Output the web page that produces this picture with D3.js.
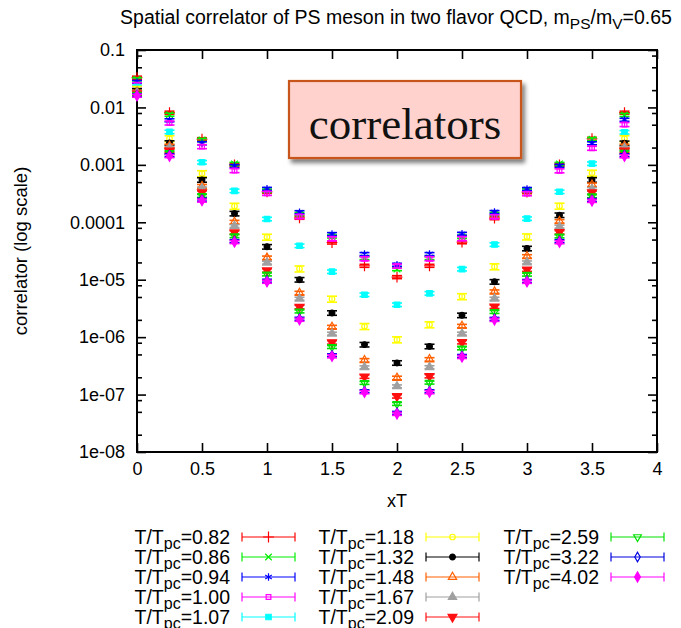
<!DOCTYPE html>
<html lang="en">
<head>
<meta charset="UTF-8">
<title>Spatial correlator of PS meson</title>
<script src="https://cdn.jsdelivr.net/npm/d3@7"></script>
<style>
  body { margin: 0; background: #fff; }
  svg { display: block; font-family: "Liberation Sans", Arial, Helvetica, sans-serif; }
</style>
</head>
<body>
<script>
// distances in units of 1/T
const xT = [0, 0.25, 0.5, 0.75, 1, 1.25, 1.5, 1.75, 2, 2.25, 2.5, 2.75, 3, 3.25, 3.5, 3.75];

// temperatures T/Tpc, one series each
const temps = ["0.82", "0.86", "0.94", "1.00", "1.07", "1.18", "1.32", "1.48", "1.67", "2.09", "2.59", "3.22", "4.02"];

const c082 = [3.30e-2, 8.12e-3, 2.80e-3, 1.00e-3, 3.39e-4, 1.20e-4, 4.45e-5, 1.75e-5, 1.11e-5, 1.75e-5, 4.50e-5, 1.18e-4, 3.35e-4, 1.00e-3, 2.85e-3, 8.12e-3];
const c086 = [3.09e-2, 7.49e-3, 2.72e-3, 1.04e-3, 3.57e-4, 1.39e-4, 5.66e-5, 2.38e-5, 1.53e-5, 2.38e-5, 5.60e-5, 1.40e-4, 3.60e-4, 1.04e-3, 2.80e-3, 7.40e-3];
const c094 = [2.78e-2, 5.99e-3, 2.38e-3, 9.49e-4, 3.82e-4, 1.50e-4, 6.23e-5, 2.80e-5, 1.82e-5, 2.80e-5, 6.30e-5, 1.51e-4, 3.80e-4, 9.60e-4, 2.38e-3, 6.10e-3];
const c100 = [2.49e-2, 5.37e-3, 2.08e-3, 7.96e-4, 3.19e-4, 1.26e-4, 5.16e-5, 2.32e-5, 1.73e-5, 2.32e-5, 5.20e-5, 1.25e-4, 3.15e-4, 7.90e-4, 1.95e-3, 5.05e-3];
const c107 = [2.27e-2, 3.75e-3, 1.11e-3, 3.53e-4, 1.14e-4, 3.90e-5, 1.38e-5, 5.48e-6, 3.67e-6, 5.80e-6, 1.53e-5, 4.10e-5, 1.16e-4, 3.40e-4, 1.05e-3, 3.70e-3];
const c118 = [2.07e-2, 2.87e-3, 7.06e-4, 1.91e-4, 5.53e-5, 1.55e-5, 4.61e-6, 1.54e-6, 9.04e-7, 1.65e-6, 5.10e-6, 1.69e-5, 5.60e-5, 1.92e-4, 7.20e-4, 2.87e-3];
const c132 = [1.94e-2, 2.41e-3, 5.48e-4, 1.42e-4, 3.75e-5, 1.00e-5, 2.64e-6, 7.41e-7, 3.56e-7, 6.90e-7, 2.40e-6, 9.20e-6, 3.50e-5, 1.33e-4, 5.48e-4, 2.38e-3];
const c148 = [1.86e-2, 2.14e-3, 4.26e-4, 1.01e-4, 2.41e-5, 5.87e-6, 1.50e-6, 3.95e-7, 1.95e-7, 4.10e-7, 1.56e-6, 6.20e-6, 2.55e-5, 1.04e-4, 4.50e-4, 2.14e-3];
const c167 = [1.79e-2, 1.98e-3, 3.87e-4, 8.59e-5, 1.98e-5, 4.67e-6, 1.15e-6, 2.98e-7, 1.39e-7, 3.00e-7, 1.15e-6, 4.67e-6, 2.00e-5, 8.40e-5, 3.80e-4, 1.97e-3];
const c209 = [1.74e-2, 1.77e-3, 3.30e-4, 6.65e-5, 1.45e-5, 3.35e-6, 8.12e-7, 2.06e-7, 9.34e-8, 2.10e-7, 8.20e-7, 3.40e-6, 1.50e-5, 6.70e-5, 3.30e-4, 1.77e-3];
const c259 = [1.67e-2, 1.62e-3, 2.89e-4, 5.75e-5, 1.24e-5, 2.81e-6, 6.75e-7, 1.60e-7, 6.89e-8, 1.62e-7, 6.40e-7, 2.75e-6, 1.23e-5, 5.70e-5, 2.85e-4, 1.64e-3];
const c322 = [1.63e-2, 1.47e-3, 2.48e-4, 4.70e-5, 9.60e-6, 2.09e-6, 4.82e-7, 1.14e-7, 4.80e-8, 1.14e-7, 4.70e-7, 2.08e-6, 9.50e-6, 4.70e-5, 2.45e-4, 1.47e-3];
const c402 = [1.60e-2, 1.42e-3, 2.39e-4, 4.53e-5, 9.23e-6, 2.01e-6, 4.64e-7, 1.10e-7, 4.62e-8, 1.10e-7, 4.52e-7, 2.00e-6, 9.20e-6, 4.50e-5, 2.36e-4, 1.41e-3];

const series = [c082, c086, c094, c100, c107, c118, c132, c148, c167, c209, c259, c322, c402];

// relative statistical error of each series
const relErr = [0.06, 0.06, 0.06, 0.08, 0.07, 0.12, 0.09, 0.07, 0.06, 0.07, 0.06, 0.06, 0.06];

const colors = ["#ff0000", "#00ee00", "#0000ff", "#ff00ff", "#00ffff", "#ffff00", "#000000",
                "#ff6000", "#a0a0a0", "#ff1010", "#00e000", "#0000e0", "#ff00ff"];

const xTicks = [0, 0.5, 1, 1.5, 2, 2.5, 3, 3.5, 4];
const xTickLabels = ["0", "0.5", "1", "1.5", "2", "2.5", "3", "3.5", "4"];
const yTicks = [1e-8, 1e-7, 1e-6, 1e-5, 1e-4, 1e-3, 1e-2, 1e-1];
const yTickLabels = ["1e-08", "1e-07", "1e-06", "1e-05", "0.0001", "0.001", "0.01", "0.1"];

const width = 681, height = 628;
const pLeft = 137, pRight = 657, pTop = 50, pBottom = 452;

const svg = d3.select("body").append("svg")
  .attr("width", width).attr("height", height);

const defs = svg.append("defs");
defs.append("filter").attr("id", "shadow")
  .attr("x", "-10%").attr("y", "-10%").attr("width", "130%").attr("height", "140%")
  .append("feDropShadow")
  .attr("dx", 3).attr("dy", 4).attr("stdDeviation", 2)
  .attr("flood-color", "#000").attr("flood-opacity", 0.5);

const x = d3.scaleLinear().domain([0, 4]).range([pLeft, pRight]);
const y = d3.scaleLog().domain([1e-8, 0.1]).range([pBottom, pTop]);

// minor ticks at 2, 5, 8 within each decade
const yMinor = [];
yTicks.slice(0, -1).forEach(d => [2, 5, 8].forEach(m => yMinor.push(d * m)));

// title with subscripts
const title = svg.append("text")
  .attr("x", 396).attr("y", 24)
  .attr("text-anchor", "middle")
  .attr("font-size", 19.5);
title.append("tspan").text("Spatial correlator of PS meson in two flavor QCD, m");
title.append("tspan").attr("font-size", 15.5).attr("dy", 5).text("PS");
title.append("tspan").attr("dy", -5).text("/m");
title.append("tspan").attr("font-size", 15.5).attr("dy", 5).text("V");
title.append("tspan").attr("dy", -5).text("=0.65");

// axes, ticks pointing inward on all four sides
const fmtX = d => xTickLabels[xTicks.indexOf(d)];
const fmtY = d => yTickLabels[yTicks.indexOf(d)];

const axisStyle = g => {
  g.select(".domain").remove();
  g.selectAll("line").attr("stroke", "#000").attr("stroke-width", 1.6);
  g.selectAll("text").attr("font-size", 18).attr("fill", "#000")
    .attr("font-family", "'Liberation Sans', Arial, sans-serif");
};

svg.append("g").attr("transform", `translate(0,${pBottom})`)
  .call(d3.axisBottom(x).tickValues(xTicks).tickFormat(fmtX).tickSize(-9).tickPadding(10))
  .call(axisStyle);
svg.append("g").attr("transform", `translate(0,${pTop})`)
  .call(d3.axisTop(x).tickValues(xTicks).tickFormat("").tickSize(-9))
  .call(axisStyle);
svg.append("g").attr("transform", `translate(${pLeft},0)`)
  .call(d3.axisLeft(y).tickValues(yTicks).tickFormat(fmtY).tickSize(-9).tickPadding(12))
  .call(axisStyle);
svg.append("g").attr("transform", `translate(${pLeft},0)`)
  .call(d3.axisLeft(y).tickValues(yMinor).tickFormat("").tickSize(-5))
  .call(axisStyle);
svg.append("g").attr("transform", `translate(${pRight},0)`)
  .call(d3.axisRight(y).tickValues(yTicks).tickFormat("").tickSize(-9))
  .call(axisStyle);
svg.append("g").attr("transform", `translate(${pRight},0)`)
  .call(d3.axisRight(y).tickValues(yMinor).tickFormat("").tickSize(-5))
  .call(axisStyle);

// frame
svg.append("rect")
  .attr("x", pLeft).attr("y", pTop)
  .attr("width", pRight - pLeft).attr("height", pBottom - pTop)
  .attr("fill", "none").attr("stroke", "#000").attr("stroke-width", 2);

// axis titles
svg.append("text")
  .attr("x", 397).attr("y", 507)
  .attr("text-anchor", "middle").attr("font-size", 18)
  .text("xT");
svg.append("text")
  .attr("transform", "translate(27,251) rotate(-90)")
  .attr("text-anchor", "middle").attr("font-size", 18.5)
  .text("correlator (log scale)");

// point styles: plus, x, star, open/filled square, circle, triangle, inverted triangle, diamond
const markers = [
  {sym: d3.symbolPlus, size: 40, fill: false},
  {sym: d3.symbolTimes, size: 30, fill: false},
  {sym: d3.symbolAsterisk, size: 40, fill: false},
  {sym: d3.symbolSquare, size: 22, fill: false},
  {sym: d3.symbolSquare, size: 30, fill: true},
  {sym: d3.symbolCircle, size: 24, fill: false},
  {sym: d3.symbolCircle, size: 26, fill: true},
  {sym: d3.symbolTriangle, size: 30, fill: false},
  {sym: d3.symbolTriangle, size: 30, fill: true},
  {sym: d3.symbolTriangle, size: 34, fill: true, flip: true},
  {sym: d3.symbolTriangle, size: 26, fill: false, flip: true},
  {sym: d3.symbolDiamond, size: 26, fill: false},
  {sym: d3.symbolDiamond, size: 30, fill: true}
];

function drawMarker(g, i, cx, cy) {
  const m = markers[i];
  g.append("path")
    .attr("d", d3.symbol().type(m.sym).size(m.size)())
    .attr("transform", `translate(${cx},${cy})` + (m.flip ? " rotate(180)" : ""))
    .attr("fill", m.fill ? colors[i] : "none")
    .attr("stroke", colors[i]).attr("stroke-width", 1.2);
}

// data with error bars
const plot = svg.append("g");
series.forEach((vals, i) => {
  const g = plot.append("g");
  vals.forEach((v, j) => {
    const cx = x(xT[j]);
    const yHi = y(v * (1 + relErr[i])), yLo = y(v * (1 - relErr[i]));
    g.append("line").attr("x1", cx).attr("x2", cx).attr("y1", yHi).attr("y2", yLo)
      .attr("stroke", colors[i]).attr("stroke-width", 1.2);
    [yHi, yLo].forEach(yy => g.append("line")
      .attr("x1", cx - 5).attr("x2", cx + 5).attr("y1", yy).attr("y2", yy)
      .attr("stroke", colors[i]).attr("stroke-width", 1.6));
    drawMarker(g, i, cx, y(v));
  });
});

// "correlators" note box
const note = svg.append("g");
note.append("rect")
  .attr("x", 289).attr("y", 81).attr("width", 232).attr("height", 77)
  .attr("fill", "#ffd2cd").attr("stroke", "#c8561f").attr("stroke-width", 2.2)
  .attr("filter", "url(#shadow)");
note.append("text")
  .attr("x", 405).attr("y", 139)
  .attr("text-anchor", "middle")
  .attr("font-family", "'Liberation Serif', 'DejaVu Serif', serif")
  .attr("font-size", 45).attr("fill", "#111")
  .text("correlators");

// legend, three columns
const colX = [242, 426, 611];
const rowY = [537, 557, 577, 597, 617];
const perCol = [5, 5, 3];
let k = 0;
perCol.forEach((n, c) => {
  for (let r = 0; r < n; r++, k++) {
    const i = k;
    const g = svg.append("g");
    const ly = rowY[r], x0 = colX[c], x1 = colX[c] + 53;
    const t = g.append("text")
      .attr("x", x0 - 12).attr("y", ly + 7)
      .attr("text-anchor", "end").attr("font-size", 19.5);
    t.append("tspan").text("T/T");
    t.append("tspan").attr("font-size", 16).attr("dy", 5).text("pc");
    t.append("tspan").attr("dy", -5).text("=" + temps[i]);
    g.append("line").attr("x1", x0).attr("x2", x1).attr("y1", ly).attr("y2", ly)
      .attr("stroke", colors[i]).attr("stroke-width", 1.2);
    [x0, x1].forEach(xx => g.append("line")
      .attr("x1", xx).attr("x2", xx).attr("y1", ly - 4.5).attr("y2", ly + 4.5)
      .attr("stroke", colors[i]).attr("stroke-width", 1.2));
    drawMarker(g, i, (x0 + x1) / 2, ly);
  }
});
</script>
</body>
</html>
